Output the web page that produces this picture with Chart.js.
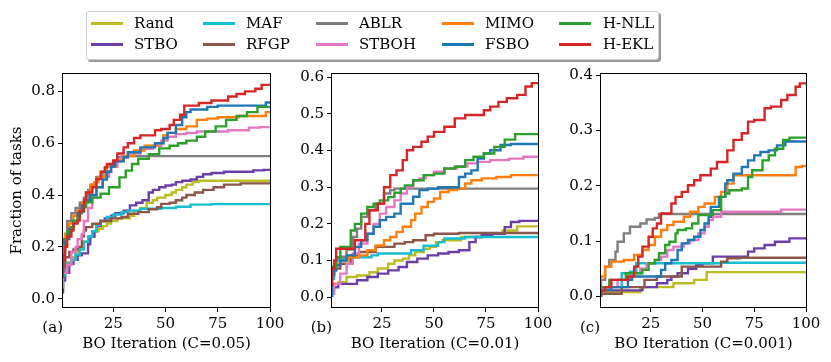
<!DOCTYPE html>
<html>
<head>
<meta charset="utf-8">
<script src="https://cdn.jsdelivr.net/npm/chart.js@4.4.1/dist/chart.umd.min.js"></script>
<style>
body { margin: 0; background: #fff; }
#wrap { position: relative; width: 831px; height: 362px; overflow: hidden; font-family: 'DejaVu Serif', serif; font-size: 15px; color: #000; }
#wrap canvas { position: absolute; left: 0; top: 0; pointer-events: none; }
#legend { position: absolute; left: 86px; top: 11px; width: 571px; height: 47px; border: 1px solid #cfcfcf; border-radius: 3px; background: #fff; box-shadow: 2px 2px 0 #9a9a9a; }
.swatch { position: absolute; height: 3px; width: 32px; }
.lbl { position: absolute; line-height: 18px; white-space: nowrap; }
.tag { position: absolute; line-height: 18px; }
</style>
</head>
<body>
<div id="wrap">
  <canvas id="panelA" width="831" height="362"></canvas>
  <canvas id="panelB" width="831" height="362"></canvas>
  <canvas id="panelC" width="831" height="362"></canvas>
  <div id="legend"></div>
</div>
<script>
// methods in plotting order (legend is filled column by column)
const methods = ['Rand', 'STBO', 'MAF', 'RFGP', 'ABLR', 'STBOH', 'MIMO', 'FSBO', 'H-NLL', 'H-EKL'];
const colors = ['#bcbd22', '#6a40a8', '#17becf', '#8c564b', '#7f7f7f', '#e377c2', '#ff7f0e', '#1f77b4', '#2ca02c', '#d62728'];

const xTicks = [25, 50, 75, 100];
const yTicksA = [0, 0.2, 0.4, 0.6, 0.8];
const yTicksB = [0, 0.1, 0.2, 0.3, 0.4, 0.5, 0.6];
const yTicksC = [0, 0.1, 0.2, 0.3, 0.4];
const xTitles = ['BO Iteration (C=0.05)', 'BO Iteration (C=0.01)', 'BO Iteration (C=0.001)'];
const panelTags = ['(a)', '(b)', '(c)'];
const yTitle = 'Fraction of tasks';

// (a) C=0.05  -- [iteration, fraction] at each step
const randA = [[1,0.02],[2,0.08],[3,0.11],[5,0.14],[7,0.16],[9,0.18],[11,0.2],[14,0.22],[16,0.24],[18,0.26],[20,0.27],[22,0.28],[24,0.29],[27,0.3],[33,0.31],[35,0.32],[38,0.34],[41,0.35],[44,0.37],[46,0.38],[50,0.39],[53,0.4],[55,0.41],[58,0.42],[60,0.43],[63,0.44],[66,0.45],[70,0.455],[100,0.455]];
const stboA = [[1,0.02],[2,0.07],[4,0.1],[6,0.135],[8,0.15],[10,0.167],[13,0.175],[14,0.21],[16,0.24],[17,0.26],[19,0.28],[21,0.3],[24,0.31],[26,0.32],[30,0.33],[33,0.34],[36,0.36],[39,0.37],[42,0.38],[44,0.41],[47,0.42],[50,0.43],[53,0.437],[55,0.44],[58,0.45],[62,0.455],[65,0.46],[68,0.47],[72,0.48],[78,0.485],[92,0.49],[97,0.495],[100,0.497]];
const mafA = [[1,0.04],[2,0.09],[3,0.11],[5,0.135],[7,0.15],[9,0.17],[11,0.19],[13,0.22],[15,0.24],[17,0.26],[19,0.285],[22,0.3],[25,0.315],[29,0.325],[32,0.334],[38,0.34],[48,0.347],[55,0.35],[62,0.355],[72,0.363],[100,0.365]];
const rfgpA = [[1,0.1],[2,0.12],[4,0.16],[6,0.18],[8,0.19],[10,0.2],[11,0.24],[12,0.263],[15,0.276],[19,0.289],[24,0.3],[29,0.31],[32,0.315],[37,0.328],[42,0.334],[46,0.345],[48,0.353],[52,0.366],[55,0.37],[58,0.38],[60,0.39],[64,0.4],[68,0.41],[73,0.42],[78,0.43],[86,0.44],[100,0.445]];
const ablrA = [[1,0.1],[2,0.2],[3,0.25],[5,0.3],[7,0.33],[9,0.35],[11,0.37],[13,0.39],[15,0.42],[17,0.44],[20,0.47],[22,0.49],[25,0.51],[27,0.53],[32,0.546],[40,0.55],[100,0.55]];
const stbohA = [[1,0.04],[3,0.1],[5,0.13],[7,0.18],[8,0.2],[10,0.23],[11,0.25],[13,0.3],[15,0.35],[17,0.39],[20,0.43],[23,0.47],[24,0.49],[27,0.51],[29,0.53],[33,0.55],[38,0.56],[44,0.578],[48,0.59],[51,0.61],[55,0.625],[60,0.635],[65,0.64],[80,0.645],[90,0.65],[95,0.66],[100,0.662]];
const mimoA = [[1,0.1],[2,0.18],[4,0.25],[6,0.29],[8,0.32],[10,0.34],[12,0.37],[14,0.41],[16,0.44],[18,0.45],[21,0.47],[22,0.494],[26,0.51],[30,0.533],[35,0.55],[40,0.572],[46,0.59],[49,0.6],[51,0.63],[55,0.64],[60,0.655],[65,0.665],[70,0.69],[75,0.695],[85,0.7],[98,0.705],[100,0.72]];
const fsboA = [[1,0.08],[2,0.17],[4,0.23],[6,0.27],[8,0.3],[10,0.33],[12,0.36],[14,0.38],[17,0.4],[20,0.43],[22,0.46],[24,0.49],[26,0.51],[30,0.53],[32,0.546],[38,0.565],[45,0.584],[49,0.6],[51,0.62],[55,0.64],[58,0.67],[60,0.7],[62,0.72],[70,0.73],[75,0.74],[98,0.745],[100,0.757]];
const hnllA = [[1,0.205],[3,0.23],[5,0.26],[6,0.276],[8,0.3],[9,0.315],[11,0.335],[12,0.353],[15,0.372],[19,0.39],[23,0.405],[28,0.43],[31,0.468],[34,0.494],[37,0.52],[42,0.54],[47,0.558],[52,0.58],[56,0.59],[60,0.6],[65,0.61],[69,0.625],[74,0.645],[79,0.665],[84,0.69],[89,0.705],[94,0.72],[98,0.74],[100,0.74]];
const heklA = [[1,0.1],[2,0.15],[3,0.2],[5,0.24],[6,0.263],[8,0.29],[9,0.302],[11,0.34],[12,0.379],[15,0.41],[17,0.43],[19,0.462],[21,0.49],[22,0.507],[25,0.52],[27,0.533],[30,0.56],[32,0.584],[35,0.6],[38,0.62],[45,0.63],[48,0.65],[52,0.655],[54,0.67],[57,0.69],[59,0.71],[66,0.745],[72,0.755],[80,0.765],[84,0.78],[88,0.79],[93,0.8],[96,0.81],[99,0.825],[100,0.825]];

// (b) C=0.01
const randB = [[1,0],[4,0.036],[8,0.041],[13,0.055],[19,0.059],[23,0.068],[28,0.078],[31,0.091],[35,0.1],[38,0.105],[41,0.114],[45,0.123],[48,0.132],[51,0.137],[54,0.15],[63,0.155],[73,0.164],[83,0.173],[90,0.182],[96,0.193],[100,0.193]];
const stboB = [[1,0],[2,0.018],[4,0.027],[13,0.036],[18,0.046],[23,0.055],[28,0.064],[33,0.073],[37,0.082],[42,0.096],[47,0.105],[52,0.114],[57,0.119],[62,0.123],[67,0.128],[70,0.15],[73,0.164],[78,0.169],[84,0.173],[87,0.191],[91,0.205],[100,0.208]];
const mafB = [[1,0],[2,0.05],[3,0.08],[4,0.1],[9,0.105],[20,0.109],[23,0.114],[39,0.119],[45,0.128],[52,0.14],[55,0.15],[65,0.16],[75,0.164],[100,0.164]];
const rfgpB = [[1,0.027],[2,0.064],[5,0.078],[10,0.091],[14,0.114],[22,0.123],[31,0.137],[36,0.146],[40,0.15],[46,0.155],[50,0.169],[62,0.173],[70,0.175],[100,0.175]];
const ablrB = [[1,0.06],[3,0.08],[5,0.09],[8,0.11],[11,0.13],[13,0.164],[15,0.187],[18,0.219],[22,0.237],[26,0.255],[29,0.283],[31,0.292],[34,0.296],[100,0.296]];
const stbohB = [[1,0],[2,0.009],[5,0.036],[8,0.064],[11,0.091],[14,0.119],[18,0.146],[21,0.173],[24,0.2],[27,0.228],[31,0.246],[34,0.264],[37,0.283],[40,0.3],[43,0.319],[46,0.324],[50,0.333],[55,0.342],[61,0.351],[66,0.357],[71,0.365],[77,0.369],[86,0.374],[93,0.378],[97,0.383],[100,0.383]];
const mimoB = [[1,0.046],[3,0.073],[5,0.091],[9,0.1],[14,0.109],[18,0.114],[22,0.128],[26,0.141],[29,0.155],[32,0.164],[35,0.178],[39,0.192],[41,0.21],[44,0.228],[47,0.246],[50,0.26],[53,0.269],[57,0.287],[61,0.292],[65,0.296],[68,0.31],[73,0.319],[80,0.324],[87,0.328],[97,0.333],[100,0.333]];
const fsboB = [[1,0],[2,0.06],[3,0.073],[5,0.087],[8,0.1],[12,0.114],[15,0.137],[18,0.155],[21,0.173],[24,0.192],[27,0.21],[31,0.219],[34,0.228],[40,0.255],[43,0.274],[47,0.292],[52,0.296],[62,0.3],[65,0.328],[68,0.337],[71,0.346],[74,0.378],[77,0.392],[82,0.401],[87,0.415],[90,0.418],[100,0.418]];
const hnllB = [[1,0.073],[3,0.082],[5,0.109],[10,0.137],[12,0.182],[15,0.2],[18,0.228],[21,0.246],[24,0.255],[28,0.264],[31,0.273],[34,0.285],[36,0.296],[40,0.305],[45,0.319],[50,0.333],[55,0.337],[60,0.351],[65,0.356],[69,0.374],[74,0.383],[79,0.392],[84,0.41],[89,0.43],[92,0.445],[100,0.445]];
const heklB = [[1,0.03],[2,0.078],[3,0.1],[12,0.132],[17,0.155],[19,0.2],[23,0.237],[26,0.255],[29,0.3],[32,0.333],[35,0.346],[37,0.374],[40,0.401],[44,0.41],[47,0.424],[50,0.438],[55,0.451],[60,0.465],[65,0.488],[74,0.497],[77,0.51],[81,0.52],[85,0.533],[90,0.543],[94,0.552],[97,0.575],[99,0.584],[100,0.584]];

// (c) C=0.001
const randC = [[1,0],[20,0.008],[36,0.017],[46,0.024],[52,0.03],[77,0.044],[100,0.044]];
const stboC = [[1,0],[21,0.011],[28,0.017],[33,0.024],[35,0.03],[38,0.036],[43,0.042],[47,0.05],[50,0.057],[55,0.06],[72,0.072],[75,0.081],[80,0.087],[85,0.093],[92,0.099],[96,0.105],[100,0.105]];
const mafC = [[1,0],[11,0.017],[15,0.042],[18,0.045],[59,0.06],[100,0.061]];
const rfgpC = [[1,0],[11,0.005],[22,0.017],[28,0.03],[40,0.036],[59,0.054],[62,0.063],[68,0.069],[100,0.07]];
const ablrC = [[1,0],[3,0.03],[5,0.054],[8,0.066],[9,0.081],[12,0.099],[15,0.114],[20,0.126],[23,0.132],[27,0.139],[29,0.142],[53,0.149],[100,0.149]];
const stbohC = [[1,0],[9,0.017],[15,0.03],[20,0.042],[23,0.05],[27,0.06],[30,0.066],[33,0.072],[36,0.084],[41,0.09],[44,0.096],[48,0.102],[51,0.114],[53,0.126],[55,0.138],[59,0.144],[88,0.153],[94,0.157],[100,0.157]];
const mimoC = [[1,0.024],[3,0.036],[6,0.054],[12,0.063],[17,0.066],[21,0.075],[24,0.084],[27,0.093],[30,0.108],[33,0.12],[36,0.129],[41,0.135],[44,0.144],[48,0.153],[51,0.162],[56,0.168],[59,0.18],[62,0.189],[65,0.204],[68,0.219],[95,0.219],[98,0.234],[100,0.236]];
const fsboC = [[1,0],[6,0.012],[14,0.017],[16,0.03],[30,0.036],[32,0.048],[35,0.06],[38,0.066],[40,0.084],[43,0.096],[46,0.102],[49,0.108],[51,0.12],[53,0.132],[54,0.144],[58,0.162],[61,0.18],[62,0.204],[65,0.21],[69,0.222],[72,0.234],[75,0.246],[78,0.255],[82,0.261],[86,0.264],[90,0.273],[98,0.28],[100,0.28]];
const hnllC = [[1,0],[5,0.017],[13,0.03],[21,0.042],[24,0.048],[27,0.06],[29,0.066],[32,0.078],[34,0.093],[37,0.099],[38,0.114],[42,0.12],[45,0.123],[48,0.132],[55,0.147],[59,0.156],[61,0.18],[63,0.186],[69,0.192],[72,0.195],[74,0.216],[79,0.228],[82,0.246],[85,0.255],[89,0.267],[92,0.283],[95,0.287],[100,0.287]];
const heklC = [[1,0],[3,0.011],[6,0.017],[14,0.03],[17,0.036],[19,0.054],[21,0.072],[24,0.09],[26,0.108],[28,0.123],[30,0.132],[35,0.15],[37,0.168],[40,0.18],[43,0.189],[46,0.201],[49,0.21],[54,0.219],[57,0.231],[62,0.243],[65,0.264],[69,0.283],[72,0.295],[75,0.316],[80,0.319],[83,0.34],[88,0.343],[91,0.355],[95,0.364],[97,0.379],[99,0.385],[100,0.385]];

const seriesA = [randA, stboA, mafA, rfgpA, ablrA, stbohA, mimoA, fsboA, hnllA, heklA];
const seriesB = [randB, stboB, mafB, rfgpB, ablrB, stbohB, mimoB, fsboB, hnllB, heklB];
const seriesC = [randC, stboC, mafC, rfgpC, ablrC, stbohC, mimoC, fsboC, hnllC, heklC];

Chart.defaults.font.family = "'DejaVu Serif', serif";
Chart.defaults.font.size = 15;
Chart.defaults.color = '#000';

// black box around each axes, like matplotlib spines
const framePlugin = {
    id: 'frame',
    afterDatasetsDraw(chart) {
        const a = chart.chartArea;
        const ctx = chart.ctx;
        ctx.save();
        ctx.strokeStyle = '#000';
        ctx.lineWidth = 1;
        ctx.strokeRect(Math.round(a.left) - 0.5, Math.round(a.top) - 0.5,
            Math.round(a.right - a.left) + 1, Math.round(a.bottom - a.top) + 1);
        ctx.restore();
    }
};

function makePanel(canvasId, series, box, yRange, yTicks, xTitle, showYTitle) {
    // later methods are drawn on top, as in the original
    const datasets = series.map((pts, i) => ({
        label: methods[i],
        data: pts.map(p => ({ x: p[0], y: p[1] })),
        borderColor: colors[i],
        borderWidth: 2.4,
        stepped: 'after',
        pointRadius: 0,
        fill: false,
        order: series.length - i
    }));
    return new Chart(document.getElementById(canvasId), {
        type: 'line',
        data: { datasets },
        options: {
            responsive: false,
            animation: false,
            layout: { padding: { left: box.padLeft, right: 831 - box.right, top: box.top, bottom: 0 } },
            plugins: { legend: { display: false }, tooltip: { enabled: false } },
            scales: {
                x: {
                    type: 'linear', min: 1, max: 100,
                    afterBuildTicks: s => { s.ticks = xTicks.map(v => ({ value: v })); },
                    afterFit: s => { s.height = 362 - box.bottom; },
                    ticks: { padding: 3, maxRotation: 0, callback: v => String(v) },
                    grid: { drawOnChartArea: false, tickLength: 5, color: '#000' },
                    border: { display: false },
                    title: { display: true, text: xTitle, padding: { top: 0, bottom: 9 } }
                },
                y: {
                    type: 'linear', min: yRange[0], max: yRange[1],
                    afterBuildTicks: s => { s.ticks = yTicks.map(v => ({ value: v })); },
                    afterFit: s => { s.width = box.left - box.padLeft; },
                    ticks: { padding: 3, callback: v => v.toFixed(1) },
                    grid: { drawOnChartArea: false, tickLength: 5, color: '#000' },
                    border: { display: false },
                    title: { display: showYTitle, text: yTitle, padding: { top: 8, bottom: 0 } }
                }
            }
        },
        plugins: [framePlugin]
    });
}

makePanel('panelA', seriesA, { padLeft: 0, left: 63, right: 270, top: 74, bottom: 307 }, [-0.032, 0.867], yTicksA, xTitles[0], true);
makePanel('panelB', seriesB, { padLeft: 280, left: 332, right: 538, top: 74, bottom: 307 }, [-0.027, 0.609], yTicksB, xTitles[1], false);
makePanel('panelC', seriesC, { padLeft: 550, left: 601, right: 806, top: 74, bottom: 307 }, [-0.019, 0.402], yTicksC, xTitles[2], false);

// panel tags, right aligned to each axes' left edge
const tagRight = [63, 332, 600];
panelTags.forEach((t, i) => {
    const d = document.createElement('div');
    d.className = 'tag';
    d.textContent = t;
    d.style.right = (831 - tagRight[i]) + 'px';
    d.style.top = '318px';
    document.getElementById('wrap').appendChild(d);
});

// legend, 5 columns x 2 rows filled column by column
const legend = document.getElementById('legend');
const colLine = [4, 116, 229, 355, 472];
const colText = [47, 159, 272, 398, 516];
const rowMid = [11, 32];
methods.forEach((m, i) => {
    const col = Math.floor(i / 2), row = i % 2;
    const sw = document.createElement('div');
    sw.className = 'swatch';
    sw.style.left = colLine[col] + 'px';
    sw.style.top = (rowMid[row] - 1.5) + 'px';
    sw.style.background = colors[i];
    legend.appendChild(sw);
    const lb = document.createElement('div');
    lb.className = 'lbl';
    lb.textContent = m;
    lb.style.left = colText[col] + 'px';
    lb.style.top = (rowMid[row] - 9) + 'px';
    legend.appendChild(lb);
});
</script>
</body>
</html>
